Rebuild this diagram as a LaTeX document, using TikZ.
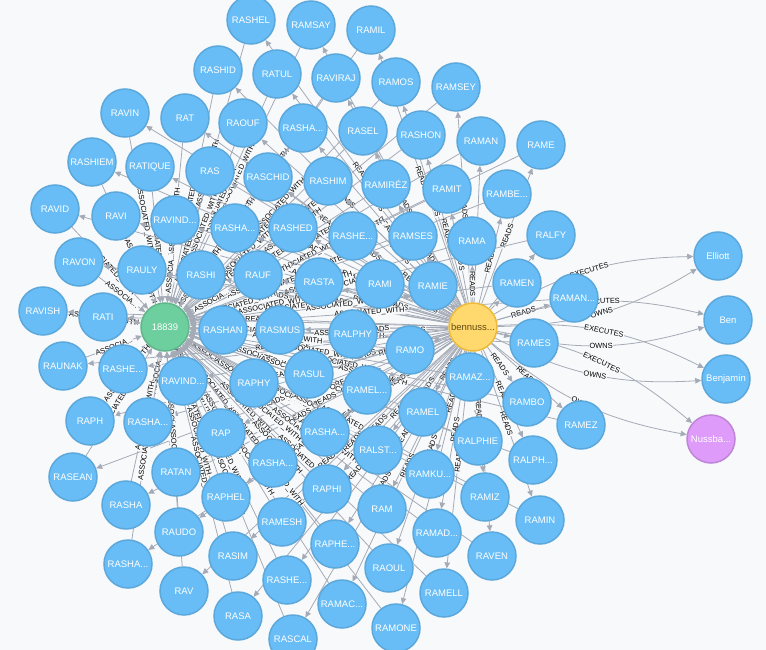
\documentclass[tikz,border=0pt]{standalone}
\usepackage{fontspec}
\setmainfont{Liberation Sans}
\usetikzlibrary{arrows.meta, calc}

\definecolor{bgcol}{HTML}{F8F9FB}
\definecolor{relgray}{HTML}{A5ABB6}
\definecolor{nameblue}{HTML}{68BDF6}
\definecolor{nameline}{HTML}{5CA8DB}
\definecolor{idgreen}{HTML}{6DCE9E}
\definecolor{idline}{HTML}{60B58B}
\definecolor{useryellow}{HTML}{FFD86E}
\definecolor{userline}{HTML}{EDBA39}
\definecolor{usertext}{HTML}{604A0E}
\definecolor{grppink}{HTML}{DE9BF9}
\definecolor{grpline}{HTML}{BF85D6}

\pgfdeclarelayer{bg}
\pgfdeclarelayer{edges}
\pgfsetlayers{bg,edges,main}

\tikzset{
  basenode/.style={circle, line width=1.5pt, minimum size=48pt, inner sep=0pt,
    font=\fontsize{9.5}{10}\selectfont},
  namenode/.style={basenode, draw=nameline, fill=nameblue, text=white},
  idnode/.style={basenode, draw=idline, fill=idgreen, text=white},
  usernode/.style={basenode, draw=userline, fill=useryellow, text=usertext},
  grpnode/.style={basenode, draw=grpline, fill=grppink, text=white},
  rel/.style={draw=relgray, line width=0.8pt, -{Triangle[length=6pt,width=5.5pt]}},
  lbl/.style={sloped, fill=bgcol, inner sep=0.6pt, text=black,
    font=\fontsize{7.4}{7.4}\selectfont}
}

\begin{document}
\begin{tikzpicture}[x=1pt,y=-1pt]
  \useasboundingbox (0,0) rectangle (766,650);
  \clip (0,0) rectangle (766,650);
  \begin{pgfonlayer}{bg}
    \fill[bgcol] (0,0) rectangle (766,650);
  \end{pgfonlayer}

  % hubs
  \node[idnode] (id18839) at (165,327) {18839};
  \node[usernode] (bennuss) at (473,327) {bennuss...};

  % right hand side
  \node[namenode] (elliott) at (718,256) {Elliott};
  \node[namenode] (ben) at (728,320) {Ben};
  \node[namenode] (benjamin) at (726,379) {Benjamin};
  \node[grpnode] (nussba) at (711,439) {Nussba...};

  % names
  \node[namenode] (rashel) at (251,20) {RASHEL};
  \node[namenode] (ramsay) at (311,25) {RAMSAY};
  \node[namenode] (ramil) at (371,30) {RAMIL};
  \node[namenode] (rashid) at (218,70) {RASHID};
  \node[namenode] (ratul) at (277,74) {RATUL};
  \node[namenode] (raviraj) at (336,78) {RAVIRAJ};
  \node[namenode] (ramos) at (396,82) {RAMOS};
  \node[namenode] (ramsey) at (456,87) {RAMSEY};
  \node[namenode] (ravin) at (125,113) {RAVIN};
  \node[namenode] (rat) at (185,118) {RAT};
  \node[namenode] (raouf) at (243,123) {RAOUF};
  \node[namenode] (rashaA) at (303,128) {RASHA...};
  \node[namenode] (rasel) at (363,131) {RASEL};
  \node[namenode] (rashon) at (421,135) {RASHON};
  \node[namenode] (raman) at (481,141) {RAMAN};
  \node[namenode] (rame) at (541,145) {RAME};
  \node[namenode] (rashiem) at (92,162) {RASHIEM};
  \node[namenode] (ratique) at (150,167) {RATIQUE};
  \node[namenode] (ras) at (210,171) {RAS};
  \node[namenode] (raschid) at (268,177) {RASCHID};
  \node[namenode] (rashim) at (328,181) {RASHIM};
  \node[namenode] (ramirez) at (386,184) {RAMIRÉZ};
  \node[namenode] (ramit) at (447,189) {RAMIT};
  \node[namenode] (rambe) at (507,194) {RAMBE...};
  \node[namenode] (ravid) at (55,209) {RAVID};
  \node[namenode] (ravi) at (116,216) {RAVI};
  \node[namenode] (ravindA) at (175,220) {RAVIND...};
  \node[namenode] (rashaB) at (235,228) {RASHA...};
  \node[namenode] (rashed) at (293,228) {RASHED};
  \node[namenode] (rasheA) at (353,236) {RASHE...};
  \node[namenode] (ramses) at (413,236) {RAMSES};
  \node[namenode] (rama) at (472,241) {RAMA};
  \node[namenode] (ralfy) at (551,235) {RALFY};
  \node[namenode] (ravon) at (79,262) {RAVON};
  \node[namenode] (rauly) at (142,270) {RAULY};
  \node[namenode] (rashi) at (201,275) {RASHI};
  \node[namenode] (rauf) at (258,275) {RAUF};
  \node[namenode] (rasta) at (319,282) {RASTA};
  \node[namenode] (rami) at (380,284) {RAMI};
  \node[namenode] (ramie) at (433,286) {RAMIE};
  \node[namenode] (ramen) at (517,283) {RAMEN};
  \node[namenode] (ravish) at (43,311) {RAVISH};
  \node[namenode] (rati) at (103,317) {RATI};
  \node[namenode] (rashan) at (223,330) {RASHAN};
  \node[namenode] (rasmus) at (280,330) {RASMUS};
  \node[namenode] (ralphy) at (353,334) {RALPHY};
  \node[namenode] (ramanB) at (574,298) {RAMAN...};
  \node[namenode] (rames) at (534,343) {RAMES};
  \node[namenode] (raunak) at (63,366) {RAUNAK};
  \node[namenode] (rasheB) at (123,369) {RASHE...};
  \node[namenode] (ravindB) at (183,381) {RAVIND...};
  \node[namenode] (raphy) at (254,383) {RAPHY};
  \node[namenode] (rasul) at (309,374) {RASUL};
  \node[namenode] (ramo) at (410,350) {RAMO};
  \node[namenode] (ramelB) at (367,390) {RAMEL...};
  \node[namenode] (ramaz) at (470,377) {RAMAZ...};
  \node[namenode] (rambo) at (527,402) {RAMBO};
  \node[namenode] (ramez) at (581,425) {RAMEZ};
  \node[namenode] (raph) at (90,421) {RAPH};
  \node[namenode] (rashaC) at (148,422) {RASHA...};
  \node[namenode] (rap) at (221,433) {RAP};
  \node[namenode] (rashaD) at (325,432) {RASHA...};
  \node[namenode] (ralst) at (378,450) {RALST...};
  \node[namenode] (ramel) at (423,412) {RAMEL};
  \node[namenode] (ralphie) at (478,441) {RALPHIE};
  \node[namenode] (ralph) at (533,460) {RALPH...};
  \node[namenode] (rasean) at (73,477) {RASEAN};
  \node[namenode] (ratan) at (176,472) {RATAN};
  \node[namenode] (raphel) at (226,497) {RAPHEL};
  \node[namenode] (rashaE) at (273,463) {RASHA...};
  \node[namenode] (raphi) at (327,489) {RAPHI};
  \node[namenode] (ramku) at (430,474) {RAMKU...};
  \node[namenode] (ramiz) at (485,497) {RAMIZ};
  \node[namenode] (ramin) at (540,520) {RAMIN};
  \node[namenode] (rasha) at (126,505) {RASHA};
  \node[namenode] (raudo) at (179,532) {RAUDO};
  \node[namenode] (ramesh) at (282,522) {RAMESH};
  \node[namenode] (ram) at (382,509) {RAM};
  \node[namenode] (ramad) at (437,533) {RAMAD...};
  \node[namenode] (raven) at (492,556) {RAVEN};
  \node[namenode] (rasim) at (233,556) {RASIM};
  \node[namenode] (raphe) at (335,544) {RAPHE...};
  \node[namenode] (rashaF) at (128,564) {RASHA...};
  \node[namenode] (rav) at (184,591) {RAV};
  \node[namenode] (rasheC) at (287,580) {RASHE...};
  \node[namenode] (raoul) at (389,568) {RAOUL};
  \node[namenode] (ramell) at (444,593) {RAMELL};
  \node[namenode] (rasa) at (238,616) {RASA};
  \node[namenode] (ramac) at (342,604) {RAMAC...};
  \node[namenode] (ramone) at (396,628) {RAMONE};
  \node[namenode] (rascal) at (293,639) {RASCAL};

  \begin{pgfonlayer}{edges}
    \foreach \who in {rashel,ramsay,ramil,rashid,ratul,raviraj,ramos,ramsey,
      ravin,rat,raouf,rashaA,rasel,rashon,raman,rame,rashiem,ratique,ras,
      raschid,rashim,ramirez,ramit,rambe,ravid,ravi,ravindA,rashaB,rashed,
      rasheA,ramses,rama,ralfy,ravon,rauly,rashi,rauf,rasta,rami,ramie,
      ramen,ravish,rati,rashan,rasmus,ralphy,ramanB,rames,raunak,rasheB,
      ravindB,raphy,rasul,ramo,ramelB,ramaz,rambo,ramez,raph,rashaC,rap,
      rashaD,ralst,ramel,ralphie,ralph,rasean,ratan,raphel,rashaE,raphi,
      ramku,ramiz,ramin,rasha,raudo,ramesh,ram,ramad,raven,rasim,raphe,
      rashaF,rav,rasheC,raoul,ramell,rasa,ramac,ramone,rascal} {
      % free length of each line decides how much of the label fits
      \path let \p1=($(\who.center)-(id18839.center)$),
                \p2=($(\who.center)-(bennuss.center)$) in
        \pgfextra{\pgfmathsetmacro{\gapA}{veclen(\x1,\y1)-50}\xdef\gapA{\gapA}
                  \pgfmathsetmacro{\gapR}{veclen(\x2,\y2)-50}\xdef\gapR{\gapR}};
      \ifdim\gapA pt>66pt \def\albl{ASSOCIATED\_WITH}\else
        \ifdim\gapA pt>34pt \def\albl{ASSOCIA...}\else\def\albl{}\fi\fi
      \ifdim\gapR pt>26pt \def\rlbl{READS}\else\def\rlbl{}\fi
      \draw[rel] (\who) -- node[lbl] {\albl} (id18839);
      \draw[rel] (bennuss) -- node[lbl] {\rlbl} (\who);
    }

    \draw[rel] (bennuss) to[bend left=15] node[lbl] {EXECUTES} (elliott);
    \draw[rel] (bennuss) to[bend right=15] node[lbl] {OWNS} (elliott);
    \draw[rel] (bennuss) to[bend left=15] node[lbl] {EXECUTES} (ben);
    \draw[rel] (bennuss) to[bend right=15] node[lbl] {OWNS} (ben);
    \draw[rel] (bennuss) to[bend left=15] node[lbl] {EXECUTES} (benjamin);
    \draw[rel] (bennuss) to[bend right=15] node[lbl] {OWNS} (benjamin);
    \draw[rel] (bennuss) to[bend left=15] node[lbl] {EXECUTES} (nussba);
    \draw[rel] (bennuss) to[bend right=15] node[lbl] {OWNS} (nussba);
  \end{pgfonlayer}
\end{tikzpicture}
\end{document}
